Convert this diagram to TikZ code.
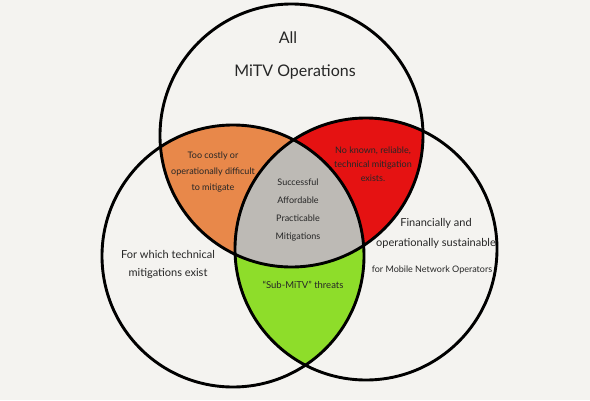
\documentclass[tikz,border=0pt]{standalone}
\usepackage{fontspec}
\setmainfont{Lato}
\definecolor{paper}{HTML}{F4F3F0}
\definecolor{costly}{HTML}{E8884A}
\definecolor{unknown}{HTML}{E51212}
\definecolor{success}{HTML}{BDBAB5}
\definecolor{submitv}{HTML}{8EDD2A}
\definecolor{ink}{HTML}{262626}
\tikzset{
  label/.style={text=ink, align=center, inner sep=1pt, font=\fontsize{9}{16}\selectfont},
  title/.style={text=ink, font=\fontsize{16}{20}\selectfont}
}
\begin{document}
\begin{tikzpicture}[x=1pt, y=-1pt]
        \useasboundingbox (0,0) rectangle (590,400);
        \fill[paper] (0,0) rectangle (590,400);
        \coordinate (topc) at (291.5,135.5);
        \coordinate (leftc) at (233,256);
        \coordinate (rightc) at (366,249);
        % pairwise overlaps
        \begin{scope}
            \clip (topc) circle (131.5pt);
            \fill[costly] (leftc) circle (131pt);
            \fill[unknown] (rightc) circle (131pt);
        \end{scope}
        \begin{scope}
            \clip (leftc) circle (131pt);
            \fill[submitv] (rightc) circle (131pt);
        \end{scope}
        % all three
        \begin{scope}
            \clip (topc) circle (131.5pt);
            \clip (leftc) circle (131pt);
            \fill[success] (rightc) circle (131pt);
        \end{scope}
        \draw[line width=2.9pt] (topc) circle (131.5pt);
        \draw[line width=2.9pt] (leftc) circle (131pt);
        \draw[line width=2.9pt] (rightc) circle (131pt);
        \node[title] (all) at (288,38) {All};
        \node[title] (ops) at (295,72) {MiTV Operations};
        \node[label] (costlytxt) at (213,172) {Too costly or\\operationally difficult\\to mitigate};
        \node[label, font=\fontsize{9}{14}\selectfont] (unknowntxt) at (373,164) {No known, reliable,\\technical mitigation\\exists.};
        \node[label, font=\fontsize{9}{18}\selectfont] (successtxt) at (298,210) {Successful\\Affordable\\Practicable\\Mitigations};
        \node[label, font=\fontsize{11}{18}\selectfont] (techtxt) at (168,264) {For which technical\\mitigations exist};
        \node[label, font=\fontsize{11}{20}\selectfont] (sustaintxt) at (436,233) {Financially and\\operationally sustainable};
        \node[label, font=\fontsize{9}{12}\selectfont] (mnotxt) at (432,270) {for Mobile Network Operators};
        \node[label, font=\fontsize{9.5}{12}\selectfont] (subtxt) at (303,285) {“Sub-MiTV” threats};
    \end{tikzpicture}
\end{document}
